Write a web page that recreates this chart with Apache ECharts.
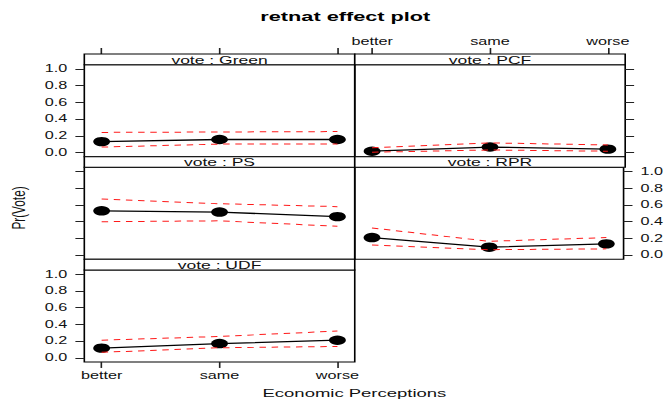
<!DOCTYPE html>
<html>
<head>
<meta charset="utf-8">
<script src="https://cdn.jsdelivr.net/npm/echarts@6/dist/echarts.min.js"></script>
<style>
  html, body { margin: 0; padding: 0; background: #fff; overflow: hidden; }
  #wrap { width: 668px; height: 403px; overflow: hidden; }
  /* the plot is laid out on a narrow page and widened to the window */
  #chart { width: 412px; height: 403px; transform-origin: 0 0; }
</style>
</head>
<body>
<div id="wrap"><div id="chart"></div></div>
<script>
// Economic perception levels
const categories = ['better', 'same', 'worse'];
const yTickValues = [0, 0.2, 0.4, 0.6, 0.8, 1.0];

// Fitted probabilities and confidence bands for each party
const greenFit   = [0.130, 0.155, 0.155];
const greenLower = [0.065, 0.100, 0.100];
const greenUpper = [0.240, 0.245, 0.250];

const pcfFit   = [0.015, 0.065, 0.040];
const pcfLower = [0.003, 0.030, 0.015];
const pcfUpper = [0.055, 0.115, 0.090];

const psFit   = [0.530, 0.515, 0.460];
const psLower = [0.400, 0.410, 0.345];
const psUpper = [0.670, 0.615, 0.580];

const rprFit   = [0.210, 0.095, 0.135];
const rprLower = [0.120, 0.065, 0.075];
const rprUpper = [0.325, 0.165, 0.210];

const udfFit   = [0.115, 0.170, 0.210];
const udfLower = [0.065, 0.120, 0.135];
const udfUpper = [0.210, 0.255, 0.320];

// ---- layout ----
const PAGE_W = 412, PAGE_H = 403;
const STRETCH = 668 / PAGE_W;
document.getElementById('chart').style.transform = 'scaleX(' + STRETCH + ')';

const FONT = 'Liberation Sans, Arial, Helvetica, sans-serif';
const colLeft = [52.0, 218.8];
const colW = 166.8;
const rowTop0 = 54, rowPitch = 102.65, stripH = 10.7, plotH = 91.95;

const panels = [
  { name: 'Green', col: 0, row: 0, fit: greenFit, lo: greenLower, hi: greenUpper,
    ySide: 'left',  yLabels: true,  xSide: 'top',    xTicks: true,  xLabels: false },
  { name: 'PCF',   col: 1, row: 0, fit: pcfFit,   lo: pcfLower,   hi: pcfUpper,
    ySide: 'right', yLabels: false, xSide: 'top',    xTicks: true,  xLabels: true },
  { name: 'PS',    col: 0, row: 1, fit: psFit,    lo: psLower,    hi: psUpper,
    ySide: 'left',  yLabels: false, xSide: 'bottom', xTicks: false, xLabels: false },
  { name: 'RPR',   col: 1, row: 1, fit: rprFit,   lo: rprLower,   hi: rprUpper,
    ySide: 'right', yLabels: true,  xSide: 'bottom', xTicks: false, xLabels: false },
  { name: 'UDF',   col: 0, row: 2, fit: udfFit,   lo: udfLower,   hi: udfUpper,
    ySide: 'left',  yLabels: true,  xSide: 'bottom', xTicks: true,  xLabels: true }
];

const grids = [], xAxes = [], yAxes = [], series = [], graphics = [];
const toPoints = arr => arr.map((v, i) => [i, v]);
const xIdx = categories.map((c, i) => i);

panels.forEach((p, i) => {
  const left = colLeft[p.col];
  const top = rowTop0 + p.row * rowPitch;

  grids.push({
    left: left, top: top + stripH, width: colW, height: plotH,
    show: true, borderColor: '#000', borderWidth: 1, backgroundColor: 'transparent'
  });

  xAxes.push({
    gridIndex: i, type: 'value', min: -0.147, max: 2.147,
    position: p.xSide, offset: p.xSide === 'top' ? stripH : 0,
    axisLine: { show: false, onZero: false }, splitLine: { show: false },
    axisTick: { show: p.xTicks, inside: false, length: 6, customValues: xIdx,
                lineStyle: { color: '#222', width: 1 } },
    axisLabel: { show: p.xLabels, customValues: xIdx, margin: p.xSide === 'top' ? 7 : 8.5,
                 formatter: v => categories[Math.round(v)],
                 fontSize: 10, fontFamily: FONT, color: '#111' }
  });

  yAxes.push({
    gridIndex: i, type: 'value', min: -0.05, max: 1.05, position: p.ySide,
    axisLine: { show: false, onZero: false }, splitLine: { show: false },
    axisTick: { show: true, inside: false, length: 5.5, customValues: yTickValues,
                lineStyle: { color: '#222', width: 1 } },
    axisLabel: { show: p.yLabels, customValues: yTickValues, margin: 10.5,
                 formatter: v => v.toFixed(1),
                 fontSize: 10, fontFamily: FONT, color: '#111' }
  });

  series.push({
    type: 'line', xAxisIndex: i, yAxisIndex: i, data: toPoints(p.fit),
    symbol: 'circle', symbolSize: [10.4, 9.4], showSymbol: true,
    itemStyle: { color: '#000' },
    lineStyle: { color: '#000', width: 1.3 }, z: 2, silent: true
  });
  [p.lo, p.hi].forEach(band => {
    series.push({
      type: 'line', xAxisIndex: i, yAxisIndex: i, data: toPoints(band),
      symbol: 'none', lineStyle: { color: '#ff1a1a', width: 1, type: [4, 3.5] },
      z: 3, silent: true
    });
  });

  // strip with the panel name
  graphics.push({
    type: 'rect', silent: true, z: 10,
    shape: { x: left, y: top, width: colW, height: stripH },
    style: { fill: '#fff', stroke: '#000', lineWidth: 1 }
  });
  graphics.push({
    type: 'text', silent: true, z: 11,
    style: { text: 'vote : ' + p.name, x: left + colW / 2, y: top + stripH / 2 + 0.5,
             textAlign: 'center', textVerticalAlign: 'middle',
             font: '10.8px ' + FONT, fill: '#111' }
  });
});

// titles
graphics.push({
  type: 'text', silent: true,
  style: { text: 'retnat effect plot', x: 213, y: 17, textAlign: 'center',
           textVerticalAlign: 'middle', font: 'bold 13.4px ' + FONT, fill: '#000' }
});
graphics.push({
  type: 'text', silent: true,
  style: { text: 'Economic Perceptions', x: 218.6, y: 393, textAlign: 'center',
           textVerticalAlign: 'middle', font: '11.4px ' + FONT, fill: '#111' }
});
graphics.push({
  type: 'text', silent: true, x: 11.4, y: 208, rotation: Math.PI / 2,
  style: { text: 'Pr(Vote)', x: 0, y: 0, textAlign: 'center',
           textVerticalAlign: 'middle', font: '11.8px ' + FONT, fill: '#111' }
});

const chart = echarts.init(document.getElementById('chart'), null,
  { renderer: 'svg', width: PAGE_W, height: PAGE_H });
chart.setOption({
  animation: false,
  backgroundColor: '#fff',
  grid: grids,
  xAxis: xAxes,
  yAxis: yAxes,
  series: series,
  graphic: graphics
});
</script>
</body>
</html>
